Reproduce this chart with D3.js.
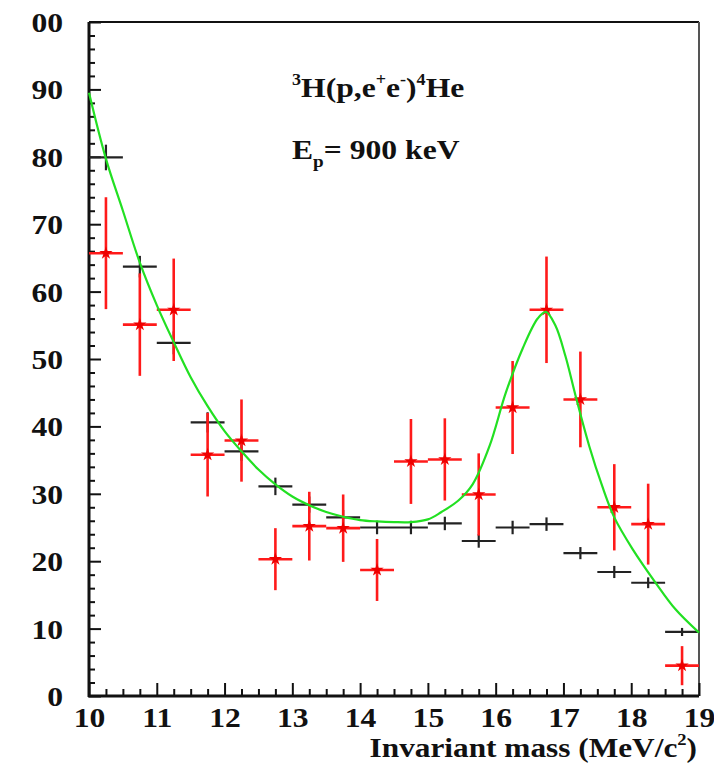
<!DOCTYPE html>
<html>
<head>
<meta charset="utf-8">
<script src="https://cdn.jsdelivr.net/npm/d3@7"></script>
<style>
  html, body { margin: 0; padding: 0; background: #ffffff; }
  svg { display: block; }
  text { font-family: "Liberation Serif", "Times New Roman", serif; font-weight: bold; fill: #111; }
</style>
</head>
<body>
<svg id="chart" width="714" height="768"></svg>
<script>
// ---------- data ----------
const massBins = [10.25, 10.75, 11.25, 11.75, 12.25, 12.75, 13.25, 13.75, 14.25,
                  14.75, 15.25, 15.75, 16.25, 16.75, 17.25, 17.75, 18.25, 18.75];
const binHalfWidth = 0.25;

// black points (background)
const blackValues = [79.9, 63.7, 52.4, 40.6, 36.3, 31.1, 28.4, 26.5, 25.0,
                     25.0, 25.6, 23.0, 25.0, 25.5, 21.2, 18.4, 16.8, 9.5];
const blackErrors = [1.9, 1.6, 1.7, 1.5, 1.4, 1.3, 1.2, 1.1, 1.0,
                     1.0, 1.0, 1.0, 1.0, 1.0, 0.9, 0.9, 0.8, 0.6];

// red points (data)
const redValues = [65.7, 55.1, 57.3, 35.8, 37.9, 20.3, 25.2, 24.9, 18.7,
                   34.8, 35.1, 29.9, 42.8, 57.3, 44.0, 28.0, 25.5, 4.5];
const redErrors = [8.3, 7.6, 7.6, 6.2, 6.1, 4.6, 5.1, 5.0, 4.6,
                   6.3, 6.1, 6.1, 6.9, 7.9, 7.1, 6.4, 6.0, 2.9];

// green fit curve
const fitMass   = [10.0, 10.25, 10.5, 10.75, 11.0, 11.25, 11.5, 11.75, 12.0, 12.25, 12.5, 12.75,
                   13.0, 13.25, 13.5, 13.75, 14.0, 14.25, 14.5, 14.75, 15.0, 15.2, 15.45,
                   15.66, 15.91, 16.15, 16.4, 16.62, 16.74, 16.88, 17.03, 17.18, 17.38,
                   17.57, 17.75, 18.02, 18.36, 18.65, 19.0];
const fitValues = [89.5, 79.7, 72.0, 64.3, 58.0, 52.5, 47.3, 43.0, 39.3, 36.3, 33.6, 31.4,
                   29.6, 28.3, 27.3, 26.6, 26.1, 25.9, 25.8, 25.8, 26.2, 27.3, 29.0,
                   31.4, 37.1, 45.0, 51.6, 56.0, 57.0, 55.0, 50.4, 44.5, 37.1,
                   31.2, 26.5, 21.8, 16.8, 12.9, 9.4];

// axes
const xTicks = [10, 11, 12, 13, 14, 15, 16, 17, 18, 19];
const xTickLabels = ["10", "11", "12", "13", "14", "15", "16", "17", "18", "19"];
const yTicks = [0, 10, 20, 30, 40, 50, 60, 70, 80, 90, 100];
const yTickLabels = ["0", "10", "20", "30", "40", "50", "60", "70", "80", "90", "00"];
const xMinorStep = 0.25;
const yMinorStep = 2;
const xTitle = "Invariant mass (MeV/c";
const xTitleSup = "2";

// ---------- drawing ----------
const svg = d3.select("#chart");
const x = d3.scaleLinear().domain([10, 19]).range([89, 699]);
const y = d3.scaleLinear().domain([0, 100]).range([696, 22]);

const FONT = 28;
const SX = 1.13; // horizontal stretch of the reference lettering

// frame (top & right)
svg.append("line").attr("x1", x(10)).attr("x2", x(19)).attr("y1", y(100)).attr("y2", y(100))
   .attr("stroke", "#111").attr("stroke-width", 2);
svg.append("line").attr("x1", x(19)).attr("x2", x(19)).attr("y1", y(100)).attr("y2", y(0))
   .attr("stroke", "#555").attr("stroke-width", 2);

// minor ticks
const xMinor = d3.range(10, 19.0001, xMinorStep).filter(v => Math.abs(v - Math.round(v)) > 1e-6);
const yMinor = d3.range(0, 100.0001, yMinorStep).filter(v => v % 10 !== 0);

const xMinorAxis = svg.append("g").attr("transform", `translate(0,${y(0)})`)
  .call(d3.axisBottom(x).tickValues(xMinor).tickSize(-7).tickFormat(""));
const yMinorAxis = svg.append("g").attr("transform", `translate(${x(10)},0)`)
  .call(d3.axisLeft(y).tickValues(yMinor).tickSize(-6).tickFormat(""));
[xMinorAxis, yMinorAxis].forEach(g => {
  g.select(".domain").remove();
  g.selectAll(".tick line").attr("stroke", "#111").attr("stroke-width", 2);
});

// major axes
const xAxis = svg.append("g").attr("transform", `translate(0,${y(0)})`)
  .call(d3.axisBottom(x).tickValues(xTicks).tickSize(-13).tickPadding(11)
        .tickFormat((d, i) => xTickLabels[i]));
const yAxis = svg.append("g").attr("transform", `translate(${x(10)},0)`)
  .call(d3.axisLeft(y).tickValues(yTicks).tickSize(-12).tickPadding(27)
        .tickFormat((d, i) => yTickLabels[i]));
[xAxis, yAxis].forEach(g => {
  g.select(".domain").remove();
  g.selectAll(".tick line").attr("stroke", "#111").attr("stroke-width", 2);
  g.selectAll(".tick text").attr("font-size", FONT).attr("fill", "#111")
   .attr("font-family", "'Liberation Serif', 'Times New Roman', serif").attr("font-weight", "bold");
});
xAxis.selectAll(".tick text").attr("transform", `scale(${SX},1)`);
yAxis.selectAll(".tick text").attr("x", 0).attr("dy", "0.34em")
  .attr("transform", `translate(-26,0) scale(${SX},1)`);

// axis lines (left & bottom)
svg.append("line").attr("x1", x(10)).attr("x2", x(10)).attr("y1", y(100)).attr("y2", y(0) + 1)
   .attr("stroke", "#111").attr("stroke-width", 3);
svg.append("line").attr("x1", x(10) - 1).attr("x2", x(19)).attr("y1", y(0)).attr("y2", y(0))
   .attr("stroke", "#111").attr("stroke-width", 3);

// black points
const blackG = svg.append("g");
massBins.forEach((m, i) => {
  blackG.append("line")
    .attr("x1", x(m - binHalfWidth)).attr("x2", x(m + binHalfWidth))
    .attr("y1", y(blackValues[i])).attr("y2", y(blackValues[i]))
    .attr("stroke", "#222").attr("stroke-width", 2.2);
  blackG.append("line")
    .attr("x1", x(m)).attr("x2", x(m))
    .attr("y1", y(blackValues[i] + blackErrors[i])).attr("y2", y(blackValues[i] - blackErrors[i]))
    .attr("stroke", "#222").attr("stroke-width", 2.2);
});

// red points
const redG = svg.append("g");
massBins.forEach((m, i) => {
  redG.append("line")
    .attr("x1", x(m - binHalfWidth)).attr("x2", x(m + binHalfWidth))
    .attr("y1", y(redValues[i])).attr("y2", y(redValues[i]))
    .attr("stroke", "#ff1a1a").attr("stroke-width", 2.6);
  redG.append("line")
    .attr("x1", x(m)).attr("x2", x(m))
    .attr("y1", y(redValues[i] + redErrors[i])).attr("y2", y(redValues[i] - redErrors[i]))
    .attr("stroke", "#ff1a1a").attr("stroke-width", 2.6);
  redG.append("path")
    .attr("d", d3.symbol().type(d3.symbolStar).size(55)())
    .attr("transform", `translate(${x(m)},${y(redValues[i])})`)
    .attr("fill", "#ee0000");
});

// green fit curve
const fitPts = fitMass.map((m, i) => [m, fitValues[i]]);
svg.append("path")
  .datum(fitPts)
  .attr("d", d3.line().x(d => x(d[0])).y(d => y(d[1])).curve(d3.curveCatmullRom.alpha(0.5)))
  .attr("fill", "none").attr("stroke", "#22e022").attr("stroke-width", 2.2);

// annotations
const ann1 = svg.append("text").attr("transform", `translate(292,97) scale(${SX},1)`).attr("font-size", FONT);
ann1.append("tspan").attr("font-size", 16).attr("dy", -12).text("3");
ann1.append("tspan").attr("dy", 12).text("H(p,e");
ann1.append("tspan").attr("font-size", 16).attr("dy", -12).text("+");
ann1.append("tspan").attr("dy", 12).text("e");
ann1.append("tspan").attr("font-size", 16).attr("dy", -12).text("-");
ann1.append("tspan").attr("dy", 12).text(")");
ann1.append("tspan").attr("font-size", 16).attr("dy", -12).text("4");
ann1.append("tspan").attr("dy", 12).text("He");

const ann2 = svg.append("text").attr("transform", `translate(292,159) scale(${SX},1)`).attr("font-size", FONT);
ann2.append("tspan").text("E");
ann2.append("tspan").attr("font-size", 17).attr("dy", 8).text("p");
ann2.append("tspan").attr("dy", -8).text("= 900 keV");

// x axis title
const xt = svg.append("text").attr("transform", `translate(697,757) scale(${SX + 0.03},1)`)
  .attr("text-anchor", "end").attr("font-size", 27);
xt.append("tspan").text(xTitle);
xt.append("tspan").attr("font-size", 16).attr("dy", -12).text(xTitleSup);
xt.append("tspan").attr("dy", 12).text(")");
</script>
</body>
</html>
